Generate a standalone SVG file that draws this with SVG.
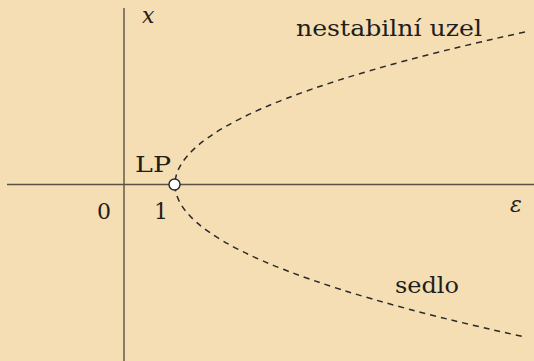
<svg xmlns="http://www.w3.org/2000/svg" width="534" height="361" viewBox="0 0 534 361">
<style>
.axis{stroke:#5a5244;stroke-width:1.4;fill:none}
.curve{stroke:#2a2a2a;stroke-width:1.5;fill:none;stroke-dasharray:6 5}
.t{font-family:'DejaVu Serif',serif;fill:#1e1e1e;font-size:22px}
.it{font-style:italic}
</style>
<rect width="534" height="361" fill="#f5deb3"/>
<g id="axes">
<line class="axis" x1="124" y1="8" x2="124" y2="361"/>
<line class="axis" x1="7" y1="184.5" x2="534" y2="184.5"/>
</g>
<g id="connectors">
<path class="curve" d="M525,32 Q-175,184.5 525,337"/>
</g>
<g id="LP">
<circle cx="174.5" cy="184.5" r="5.5" fill="#fff" stroke="#2a2a2a" stroke-width="1.4"/>
<text class="t" x="135" y="172" textLength="36" lengthAdjust="spacingAndGlyphs">LP</text>
</g>
<g id="labels">
<text class="t it" x="142" y="23">x</text>
<text class="t it" x="510" y="212">ε</text>
<text class="t" x="97" y="219">0</text>
<text class="t" x="154" y="219">1</text>
<text class="t" x="296" y="36" textLength="186" lengthAdjust="spacingAndGlyphs">nestabilní uzel</text>
<text class="t" x="395" y="293" textLength="64" lengthAdjust="spacingAndGlyphs">sedlo</text>
</g>
</svg>
